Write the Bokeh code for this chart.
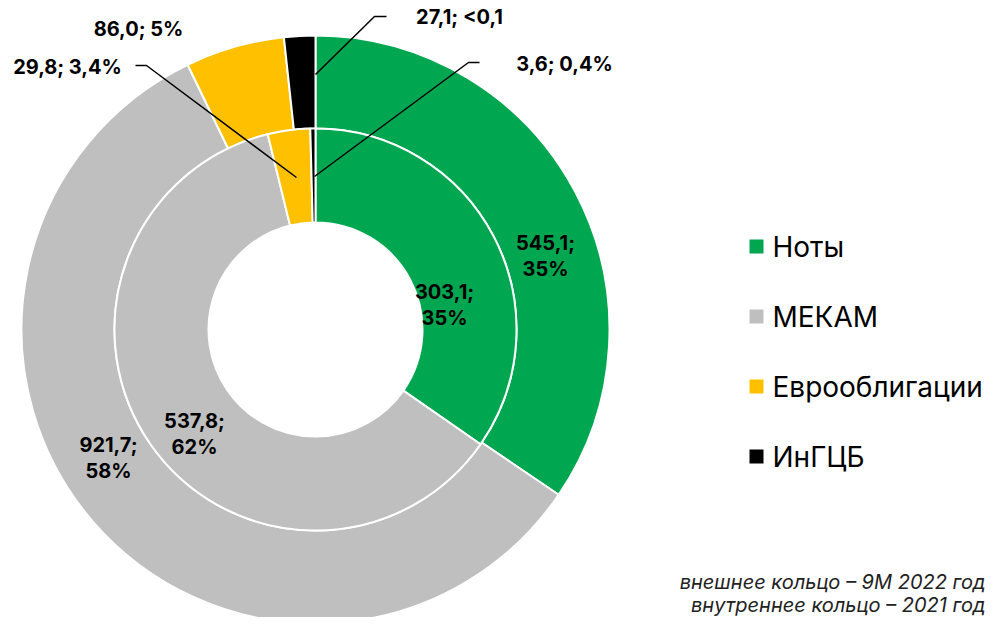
import numpy as np
from bokeh.plotting import figure
from bokeh.models import Range1d
from bokeh.core.properties import value
from bokeh.embed import file_html
from bokeh.resources import INLINE

# ---- data ----
categories = ["Ноты", "МЕКАМ", "Еврооблигации", "ИнГЦБ"]
outer_values = [545.1, 921.7, 86.0, 27.1]   # 9M 2022
inner_values = [303.1, 537.8, 29.8, 3.6]    # 2021
outer_labels = ["545,1;\n35%", "921,7;\n58%", "86,0; 5%", "27,1; <0,1"]
inner_labels = ["303,1;\n35%", "537,8;\n62%", "29,8; 3,4%", "3,6; 0,4%"]
colors = ["#00A650", "#BFBFBF", "#FFC000", "#000000"]
footnote = ["внешнее кольцо – 9M 2022 год", "внутреннее кольцо – 2021 год"]

W, H = 987, 617
def X(ix): return ix
def Y(iy): return H - iy

p = figure(width=W, height=H, output_backend="svg", toolbar_location=None,
           x_range=Range1d(0, W), y_range=Range1d(0, H), min_border=0)
p.axis.visible = False
p.grid.visible = False
p.outline_line_color = None
p.background_fill_color = "white"

cx, cy = X(315), Y(329)
r_hole, r_mid, r_out = 107, 201, 294

def angles(vals):
    v = np.array(vals, dtype=float)
    frac = v / v.sum()
    after = np.cumsum(frac)
    before = after - frac
    end = np.pi / 2 - before * 2 * np.pi
    start = np.pi / 2 - after * 2 * np.pi
    return start, end

s_o, e_o = angles(outer_values)
s_i, e_i = angles(inner_values)
n = len(categories)
p.annular_wedge(x=[cx] * n, y=[cy] * n, inner_radius=r_mid, outer_radius=r_out,
                start_angle=s_o, end_angle=e_o, fill_color=colors,
                line_color="white", line_width=2)
p.annular_wedge(x=[cx] * n, y=[cy] * n, inner_radius=r_hole, outer_radius=r_mid,
                start_angle=s_i, end_angle=e_i, fill_color=colors,
                line_color="white", line_width=2)

# leader lines (layout)
p.multi_line(xs=[[X(386), X(374), X(315)], [X(479), X(468), X(314)], [X(135), X(146), X(296)]],
             ys=[[Y(16), Y(16), Y(74)], [Y(62), Y(62), Y(176)], [Y(65), Y(65), Y(177)]],
             line_color="black", line_width=1.5)

# data labels (layout positions, centre of the label block)
pos_outer = [(545, 255), (108, 457), (138, 28), (459, 16)]
pos_inner = [(444, 304), (194, 433), (67, 66), (564, 63)]
tx, ty, tt = [], [], []
for lab, (a, b) in zip(outer_labels + inner_labels, pos_outer + pos_inner):
    lines = lab.split("\n")
    k = len(lines)
    for j, line in enumerate(lines):
        tx.append(X(a))
        ty.append(Y(b + (j - (k - 1) / 2) * 26))
        tt.append(line)
p.text(x=tx, y=ty, text=tt, text_font=value("Inter"),
       text_font_size="20px", text_font_style="bold", text_color="black",
       text_align="center", text_baseline="middle")

# legend
leg_y = [246, 316, 386, 456]
p.rect(x=[X(756)] * n, y=[Y(v) for v in leg_y], width=14, height=14,
       fill_color=colors, line_color=None)
p.text(x=[X(772)] * n, y=[Y(v) for v in leg_y], text=categories,
       text_font=value("Inter"), text_font_size="28px", text_color="black",
       text_align="left", text_baseline="middle")

# footnote
p.text(x=[X(985)] * 2, y=[Y(581), Y(604)], text=footnote,
       text_font=value("Inter"), text_font_size="20px", text_font_style="italic",
       text_color="#222222", text_align="right", text_baseline="middle")

open("out.html", "w").write(file_html(p, INLINE))
